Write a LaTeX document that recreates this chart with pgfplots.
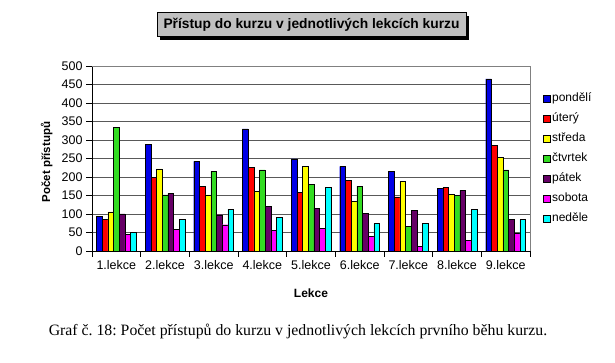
\documentclass[border=0pt]{standalone}
\usepackage{pgfplots}
\pgfplotsset{compat=1.18}
\usepackage{fontspec}
\setmainfont{Liberation Sans}
\newfontfamily\capfont{Liberation Serif}
\definecolor{cBlue}{RGB}{0,0,230}
\definecolor{cRed}{RGB}{255,0,0}
\definecolor{cYellow}{RGB}{255,255,0}
\definecolor{cGreen}{RGB}{51,220,34}
\definecolor{cPurple}{RGB}{102,0,102}
\definecolor{cMag}{RGB}{255,0,255}
\definecolor{cCyan}{RGB}{0,255,255}
\definecolor{cTitle}{RGB}{192,192,192}
\frenchspacing
\begin{document}
\begin{tikzpicture}[x=1pt,y=1pt]
\path[use as bounding box] (0,0) rectangle (615,363);
% title box with shadow
\fill[black] (160,323.3) rectangle (469,347.3);
\node[draw=black, line width=0.6pt, fill=cTitle, minimum width=309pt, minimum height=24pt, inner sep=0pt,
      font=\bfseries\fontsize{13.8}{16}\selectfont] at (311.5,338.3) {Přístup do kurzu v jednotlivých lekcích kurzu};
\begin{axis}[
  at={(92pt,112pt)}, anchor=south west,
  scale only axis, width=438pt, height=185pt,
  ybar=0pt, bar width=5.7pt,
  xmin=0.5, xmax=9.5, ymin=0, ymax=500,
  ytick distance=50,
  axis lines*=left,
  axis line style={black, line width=0.6pt},
  tick align=outside,
  major tick length=6pt,
  tick style={black, line width=0.6pt},
  xtick={0.5,1.5,...,9.5},
  xticklabels={},
  extra x ticks={1,2,3,4,5,6,7,8,9},
  extra x tick labels={1.lekce,2.lekce,3.lekce,4.lekce,5.lekce,6.lekce,7.lekce,8.lekce,9.lekce},
  extra x tick style={major tick length=0pt, xticklabel style={yshift=-6pt}},
  ymajorgrids,
  major grid style={gray!70!black, line width=0.5pt},
  /pgf/number format/assume math mode=true,
  ticklabel style={font=\fontsize{12.5}{14}\selectfont},
  xlabel={\bfseries Lekce},
  ylabel={\bfseries Počet přístupů},
  xlabel style={at={(axis description cs:0.5,-0.23)}, anchor=center, font=\fontsize{12}{14}\selectfont},
  ylabel style={at={(axis description cs:-0.1034,0.481)}, anchor=center, font=\fontsize{11.5}{14}\selectfont},
  legend style={draw=none, fill=none, at={(1,1)}, anchor=north west, xshift=10pt, yshift=-23pt,
    font=\fontsize{12}{14}\selectfont, row sep=5pt,
    nodes={inner sep=1.5pt, text height=9pt, text depth=3pt}},
  legend cell align=left,
  legend image code/.code={\draw[#1, draw=black, line width=0.4pt] (0pt,-3.5pt) rectangle (7pt,3.5pt);},
  every axis plot/.append style={draw=black, line width=0.4pt},
  clip=false,
]
\addplot[fill=cBlue] coordinates {(1,94) (2,289) (3,242) (4,330) (5,249) (6,229) (7,216) (8,170) (9,465)};
\addplot[fill=cRed] coordinates {(1,85) (2,199) (3,175) (4,226) (5,158) (6,190) (7,146) (8,172) (9,285)};
\addplot[fill=cYellow] coordinates {(1,106) (2,222) (3,152) (4,162) (5,229) (6,134) (7,189) (8,154) (9,254)};
\addplot[fill=cGreen] coordinates {(1,335) (2,152) (3,215) (4,219) (5,180) (6,175) (7,66) (8,151) (9,219)};
\addplot[fill=cPurple] coordinates {(1,100) (2,155) (3,98) (4,120) (5,116) (6,102) (7,110) (8,164) (9,85)};
\addplot[fill=cMag] coordinates {(1,45) (2,58) (3,71) (4,55) (5,61) (6,40) (7,12) (8,28) (9,48)};
\addplot[fill=cCyan] coordinates {(1,50) (2,85) (3,113) (4,90) (5,172) (6,74) (7,74) (8,112) (9,85)};
\legend{pondělí,úterý,středa,čtvrtek,pátek,sobota,neděle}
\draw[gray, line width=0.6pt] (rel axis cs:0,1) -| (rel axis cs:1,0);
\end{axis}
\node[font=\capfont\fontsize{15.8}{18}\selectfont] at (298,32) {Graf č. 18: Počet přístupů do kurzu v jednotlivých lekcích prvního běhu kurzu.};
\end{tikzpicture}
\end{document}
